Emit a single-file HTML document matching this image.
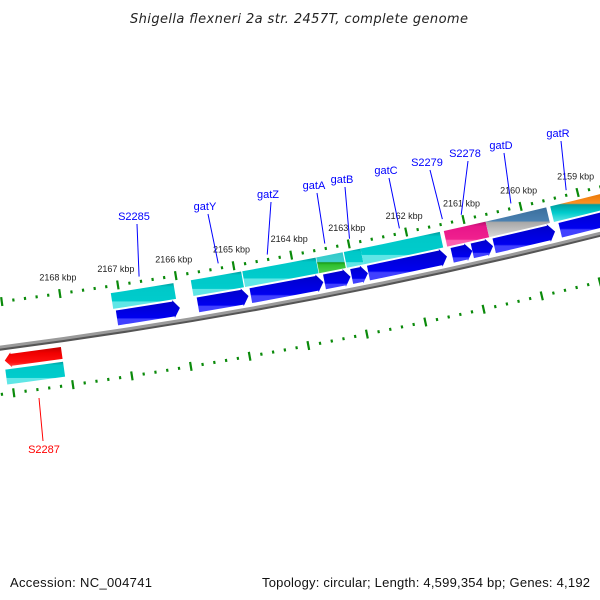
<!DOCTYPE html>
<html><head><meta charset="utf-8">
<style>
html,body{margin:0;padding:0;background:#fff;}
svg{display:block;font-family:"Liberation Sans",sans-serif;}
</style></head>
<body>
<svg id="map" width="600" height="600" viewBox="0 0 600 600" xmlns="http://www.w3.org/2000/svg">
<defs>
<linearGradient id="gTeal" x1="0" y1="0" x2="0" y2="1"><stop offset="0" stop-color="#009a9a"/><stop offset="0.15" stop-color="#00c8c8"/><stop offset="0.7" stop-color="#00cccc"/><stop offset="0.72" stop-color="#60e6e6"/><stop offset="1" stop-color="#60e6e6"/></linearGradient>
<linearGradient id="gBlue" x1="0" y1="0" x2="0" y2="1"><stop offset="0" stop-color="#0000c8"/><stop offset="0.7" stop-color="#0000f0"/><stop offset="0.75" stop-color="#4040ff"/><stop offset="1" stop-color="#4040ff"/></linearGradient>
<linearGradient id="gRed" x1="0" y1="0" x2="0" y2="1"><stop offset="0" stop-color="#c00000"/><stop offset="0.3" stop-color="#f00000"/><stop offset="0.75" stop-color="#ff1010"/><stop offset="1" stop-color="#ff5050"/></linearGradient>
<linearGradient id="gPink" x1="0" y1="0" x2="0" y2="1"><stop offset="0" stop-color="#b0106a"/><stop offset="0.2" stop-color="#e8168a"/><stop offset="0.7" stop-color="#f0208e"/><stop offset="0.75" stop-color="#ff60b0"/><stop offset="1" stop-color="#ff60b0"/></linearGradient>
<linearGradient id="gSteel" x1="0" y1="0" x2="0" y2="1"><stop offset="0" stop-color="#3a6e9c"/><stop offset="0.45" stop-color="#4a80b0"/><stop offset="0.5" stop-color="#a8a8a8"/><stop offset="1" stop-color="#d8d8d8"/></linearGradient>
<linearGradient id="gOrange" x1="0" y1="0" x2="0" y2="1"><stop offset="0" stop-color="#e07000"/><stop offset="0.4" stop-color="#ff9020"/><stop offset="0.45" stop-color="#00a0a0"/><stop offset="0.7" stop-color="#00cccc"/><stop offset="1" stop-color="#60e6e6"/></linearGradient>
<linearGradient id="gGreen" x1="0" y1="0" x2="0" y2="1"><stop offset="0" stop-color="#30c8c8"/><stop offset="0.45" stop-color="#40d0d0"/><stop offset="0.5" stop-color="#1a9a1a"/><stop offset="0.6" stop-color="#30c030"/><stop offset="1" stop-color="#50d050"/></linearGradient>
</defs>
<text x="299" y="23" text-anchor="middle" font-size="13" font-style="italic" fill="#222" style="font-family:'DejaVu Sans',sans-serif" textLength="338" lengthAdjust="spacing">Shigella flexneri 2a str. 2457T, complete genome</text>
<g id="layer"></g>
<text x="10" y="587" font-size="13" fill="#111" textLength="142" lengthAdjust="spacing">Accession: NC_004741</text>
<text x="590" y="587" text-anchor="end" font-size="13" fill="#111" textLength="328" lengthAdjust="spacing">Topology: circular; Length: 4,599,354 bp; Genes: 4,192</text>
</svg>
<script>
// ---- data (kbp positions) ----
var tickStart = 2169.4;
var tickEnd = 2158.2;
var majorTicks = [2168, 2167, 2166, 2165, 2164, 2163, 2162, 2161, 2160, 2159];
var tickLabels = ["2168 kbp","2167 kbp","2166 kbp","2165 kbp","2164 kbp","2163 kbp","2162 kbp","2161 kbp","2160 kbp","2159 kbp"];
var upperBoxStarts = [2167.14, 2165.76, 2164.87, 2163.59, 2163.11, 2162.82, 2161.37, 2160.64, 2159.51];
var upperBoxEnds   = [2166.06, 2164.89, 2163.60, 2163.13, 2162.82, 2161.44, 2160.64, 2159.58, 2158.40];
var upperBoxFills  = ["gTeal","gTeal","gTeal","gGreen","gTeal","gTeal","gPink","gSteel","gOrange"];
var upperArrowStarts = [2167.10, 2165.71, 2164.80, 2163.53, 2163.06, 2162.77, 2161.32, 2160.97, 2160.59, 2159.44];
var upperArrowEnds   = [2166.02, 2164.84, 2163.55, 2163.08, 2162.78, 2161.41, 2160.97, 2160.61, 2159.53, 2158.30];
var lowerArrowStarts = [2169.08];
var lowerArrowEnds   = [2168.11];
var lowerBoxStarts = [2169.09];
var lowerBoxEnds   = [2168.11];
var geneNames = ["S2285","gatY","gatZ","gatA","gatB","gatC","S2279","S2278","gatD","gatR"];
var geneKbp   = [2166.62, 2165.25, 2164.40, 2163.40, 2162.97, 2162.10, 2161.35, 2161.02, 2160.15, 2159.18];

// ---- geometry ----
var CX = -677, CY = -4858, R = 5249;
function ang(k){ return (81.86 - (2168 - k) * 0.6456) * Math.PI / 180; }
function pt(k, off){ var a = ang(k); return [CX + (R + off) * Math.cos(a), CY + (R + off) * Math.sin(a)]; }
var NS = "http://www.w3.org/2000/svg";
var layer = document.getElementById("layer");
function mk(tag, attrs){ var e = document.createElementNS(NS, tag); for (var k in attrs) e.setAttribute(k, attrs[k]); layer.appendChild(e); return e; }
function arcPath(k1, k2, off){ var p1 = pt(k1, off), p2 = pt(k2, off); var r = R + off;
  return "M" + p1[0].toFixed(2) + "," + p1[1].toFixed(2) + " A" + r + "," + r + " 0 0 " + (k1 > k2 ? 0 : 1) + " " + p2[0].toFixed(2) + "," + p2[1].toFixed(2); }
function bandPath(k1, k2, o1, o2){
  var a = pt(k1, o1), b = pt(k2, o1), c = pt(k2, o2), d = pt(k1, o2);
  return "M" + a + " A" + (R + o1) + "," + (R + o1) + " 0 0 0 " + b + " L" + c + " A" + (R + o2) + "," + (R + o2) + " 0 0 1 " + d + "Z";
}
function arrowPath(k1, k2, o1, o2, dir){
  var h = 0.11, m = (o1 + o2) / 2;
  var body = k2 - dir * h;
  var pts = [pt(k1, o1), pt(body, o1), pt(body, o1 - 1.5), pt(k2, m), pt(body, o2 + 1.5), pt(body, o2), pt(k1, o2)];
  return "M" + pts.map(function(p){ return p[0].toFixed(2) + "," + p[1].toFixed(2); }).join(" L") + "Z";
}

var bb = mk("path", {d: arcPath(2170, 2157.5, 2), fill: "none", stroke: "#555", "stroke-width": 3});


var bb2 = mk("path", {d: arcPath(2170, 2157.5, 0), fill: "none", stroke: "#9a9a9a", "stroke-width": 3});



var rings = [-45, 47];
for (var ri = 0; ri < rings.length; ri++) {
  var off = rings[ri];
  var n = Math.round((tickStart - tickEnd) / 0.2);
  for (var i = 0; i <= n; i++) {
    var k = tickStart - i * 0.2;
    var major = Math.abs(k - Math.round(k)) < 0.01;
    var len = major ? 4.5 : 1.5;
    var p1 = pt(k, off - len), p2 = pt(k, off + len);
    var t = mk("line", {x1: p1[0], y1: p1[1], x2: p2[0], y2: p2[1], stroke: "#0a8a0a", "stroke-width": 2.2});
    
    
  }
}
for (var i = 0; i < majorTicks.length; i++) {
  var p = pt(majorTicks[i], -45);
  var tl = mk("text", {x: p[0] - 2, y: p[1] - 13, "text-anchor": "middle", "font-size": 9, fill: "#222"});
  tl.textContent = tickLabels[i];
  
  
}

for (var i = 0; i < upperBoxStarts.length; i++) {
  var e = mk("path", {d: bandPath(upperBoxStarts[i], upperBoxEnds[i], -38, -22), fill: "url(#" + upperBoxFills[i] + ")"});
  
  
}
for (var i = 0; i < upperArrowStarts.length; i++) {
  var e = mk("path", {d: arrowPath(upperArrowStarts[i], upperArrowEnds[i], -20, -5, -1), fill: "url(#gBlue)"});
  
  
}
for (var i = 0; i < lowerArrowStarts.length; i++) {
  var e = mk("path", {d: arrowPath(lowerArrowEnds[i], lowerArrowStarts[i], 8, 20, 1), fill: "url(#gRed)"});
  
  
}
for (var i = 0; i < lowerBoxStarts.length; i++) {
  var e = mk("path", {d: bandPath(lowerBoxStarts[i], lowerBoxEnds[i], 23, 38), fill: "url(#gTeal)"});
  
  
}

var labelPos = [[134,220],[205,210],[268,198],[314,189],[342,183],[386,174],[427,166],[465,157],[501,149],[558,137]];
for (var i = 0; i < geneNames.length; i++) {
  var p = pt(geneKbp[i], -50);
  var ln = mk("line", {x1: labelPos[i][0] + 3, y1: labelPos[i][1] + 4, x2: p[0], y2: p[1], stroke: "#0000ff", "stroke-width": 1});
  
  
  var tx = mk("text", {x: labelPos[i][0], y: labelPos[i][1], "text-anchor": "middle", "font-size": 11, fill: "#0000ff"});
  tx.textContent = geneNames[i];
  
  
}
var rl = mk("line", {x1: 39, y1: 398, x2: 43, y2: 441, stroke: "#ff0000", "stroke-width": 1});


var rt = mk("text", {x: 44, y: 453, "text-anchor": "middle", "font-size": 11, fill: "#ff0000"});
rt.textContent = "S2287";


</script>
</body></html>
